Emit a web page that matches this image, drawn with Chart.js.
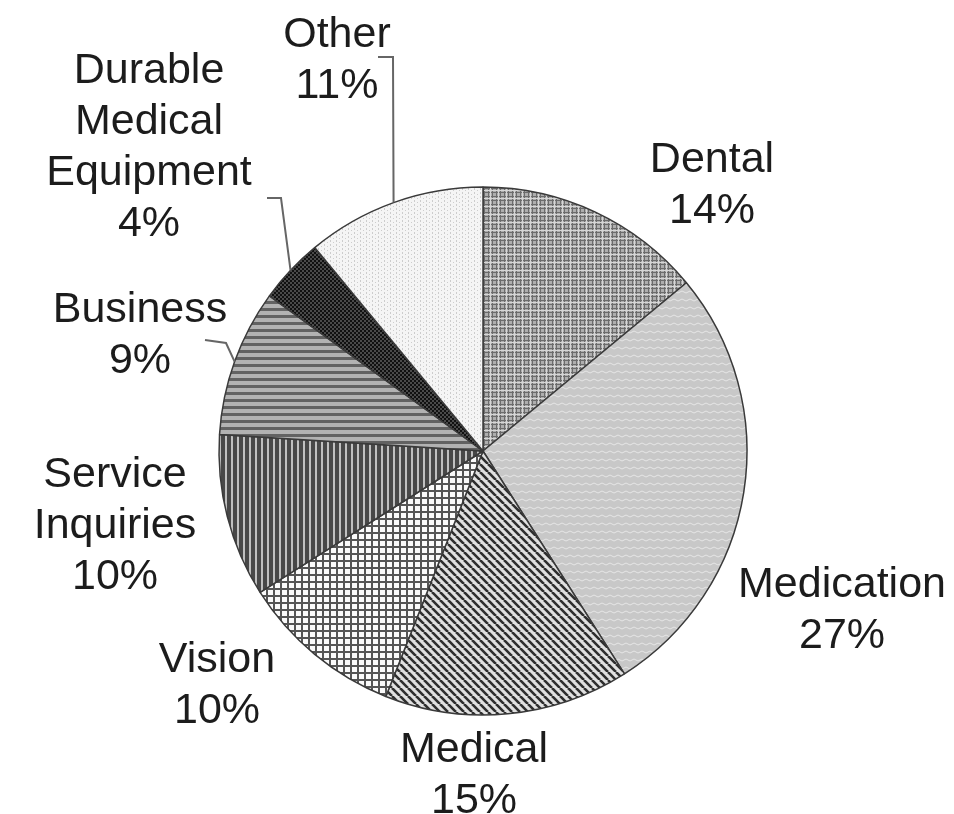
<!DOCTYPE html>
<html>
<head>
<meta charset="utf-8">
<script src="https://cdn.jsdelivr.net/npm/chart.js@4.4.1/dist/chart.umd.min.js"></script>
<style>
  body { margin: 0; background: #fff; }
  #wrap { width: 954px; height: 814px; position: relative; }
</style>
</head>
<body>
<div id="wrap"><canvas id="pieChart"></canvas></div>
<script>
// categories, clockwise from 12 o'clock
const categoryLines = [
    ["Dental"],
    ["Medication"],
    ["Medical"],
    ["Vision"],
    ["Service", "Inquiries"],
    ["Business"],
    ["Durable", "Medical", "Equipment"],
    ["Other"]
];
const categories = categoryLines.map(l => l.join(" "));
const percents = [14, 27, 15, 10, 10, 9, 4, 11];

// label placement (centre x, first baseline y) and leader elbows
const labelPos = [[712, 172], [842, 597], [474, 762], [217, 672], [115, 487], [140, 322], [149, 83], [337, 47]];
const lineGap = 51;
const leaders = [null, null, null, null, null, [[205, 340], [226, 343]], [[267, 198], [281, 198]], [[378, 57], [393, 57]]];

function makePattern(w, h, draw) {
    const c = document.createElement("canvas");
    c.width = w; c.height = h;
    const g = c.getContext("2d");
    draw(g, w, h);
    return g.createPattern(c, "repeat");
}

const fills = [
    // Dental: grey plaid
    makePattern(8, 8, (g, w, h) => {
        g.fillStyle = "#aeaeae"; g.fillRect(0, 0, w, h);
        g.fillStyle = "#6c6c6c"; g.fillRect(0, 0, w, 1); g.fillRect(0, 0, 1, h);
        g.fillRect(0, 4, w, 1); g.fillRect(4, 0, 1, h);
        g.fillStyle = "#d6d6d6"; g.fillRect(2, 0, 1, h); g.fillRect(0, 6, w, 1);
    }),
    // Medication: light grey with wavy lines
    makePattern(8, 8, (g, w, h) => {
        g.fillStyle = "#c8c8c8"; g.fillRect(0, 0, w, h);
        g.strokeStyle = "#e6e6e6"; g.lineWidth = 1;
        g.beginPath(); g.moveTo(0, 4); g.lineTo(2, 3); g.lineTo(4, 4); g.lineTo(6, 5); g.lineTo(8, 4); g.stroke();
    }),
    // Medical: dark diagonal stripes
    makePattern(8, 8, (g, w, h) => {
        g.fillStyle = "#e0e0e0"; g.fillRect(0, 0, w, h);
        g.strokeStyle = "#2e2e2e"; g.lineWidth = 2.6;
        g.beginPath();
        for (const k of [-8, 0, 8]) { g.moveTo(k, 0); g.lineTo(k + 8, 8); }
        g.stroke();
    }),
    // Vision: white with square grid
    makePattern(7, 7, (g, w, h) => {
        g.fillStyle = "#fafafa"; g.fillRect(0, 0, w, h);
        g.fillStyle = "#555"; g.fillRect(0, 0, w, 2); g.fillRect(0, 0, 2, h);
    }),
    // Service Inquiries: vertical stripes
    makePattern(6, 2, (g, w, h) => {
        g.fillStyle = "#484848"; g.fillRect(0, 0, w, h);
        g.fillStyle = "#c0c0c0"; g.fillRect(3, 0, 2, h);
    }),
    // Business: horizontal stripes
    makePattern(2, 7, (g, w, h) => {
        g.fillStyle = "#b2b2b2"; g.fillRect(0, 0, w, h);
        g.fillStyle = "#626262"; g.fillRect(0, 0, w, 3);
    }),
    // Durable Medical Equipment: dark checks
    makePattern(4, 4, (g, w, h) => {
        g.fillStyle = "#111"; g.fillRect(0, 0, w, h);
        g.fillStyle = "#4a4a4a"; g.fillRect(0, 0, 2, 2); g.fillRect(2, 2, 2, 2);
    }),
    // Other: very light dotted
    makePattern(6, 4, (g, w, h) => {
        g.fillStyle = "#f5f5f5"; g.fillRect(0, 0, w, h);
        g.fillStyle = "#cdcdcd"; g.fillRect(0, 0, 1, 2); g.fillRect(3, 2, 1, 1);
    })
];

const sliceLabels = {
    id: "sliceLabels",
    afterDatasetsDraw(chart) {
        const ctx = chart.ctx;
        const arcs = chart.getDatasetMeta(0).data;
        ctx.save();
        ctx.font = '43px "Liberation Sans", Arial, sans-serif';
        ctx.fillStyle = "#1c1c1c";
        ctx.textAlign = "center";
        ctx.textBaseline = "alphabetic";
        arcs.forEach((arc, i) => {
            const lines = categoryLines[i].concat(percents[i] + "%");
            const [x, y] = labelPos[i];
            lines.forEach((t, j) => ctx.fillText(t, x, y + j * lineGap));
            const lead = leaders[i];
            if (lead) {
                const p = arc.getProps(["x", "y", "startAngle", "endAngle", "outerRadius"], true);
                const a = (p.startAngle + p.endAngle) / 2;
                ctx.strokeStyle = "#666";
                ctx.lineWidth = 2;
                ctx.beginPath();
                ctx.moveTo(lead[0][0], lead[0][1]);
                lead.slice(1).forEach(pt => ctx.lineTo(pt[0], pt[1]));
                ctx.lineTo(p.x + Math.cos(a) * p.outerRadius, p.y + Math.sin(a) * p.outerRadius);
                ctx.stroke();
            }
        });
        ctx.restore();
    }
};

new Chart(document.getElementById("pieChart"), {
    type: "pie",
    data: {
        labels: categories,
        datasets: [{
            data: percents,
            backgroundColor: fills,
            borderColor: "#3a3a3a",
            borderWidth: 1.5,
            radius: 264
        }]
    },
    options: {
        responsive: true,
        maintainAspectRatio: false,
        animation: false,
        events: [],
        layout: { padding: { top: 187, bottom: 99, left: 219, right: 207 } },
        plugins: {
            legend: { display: false },
            tooltip: { enabled: false }
        }
    },
    plugins: [sliceLabels]
});
</script>
</body>
</html>
